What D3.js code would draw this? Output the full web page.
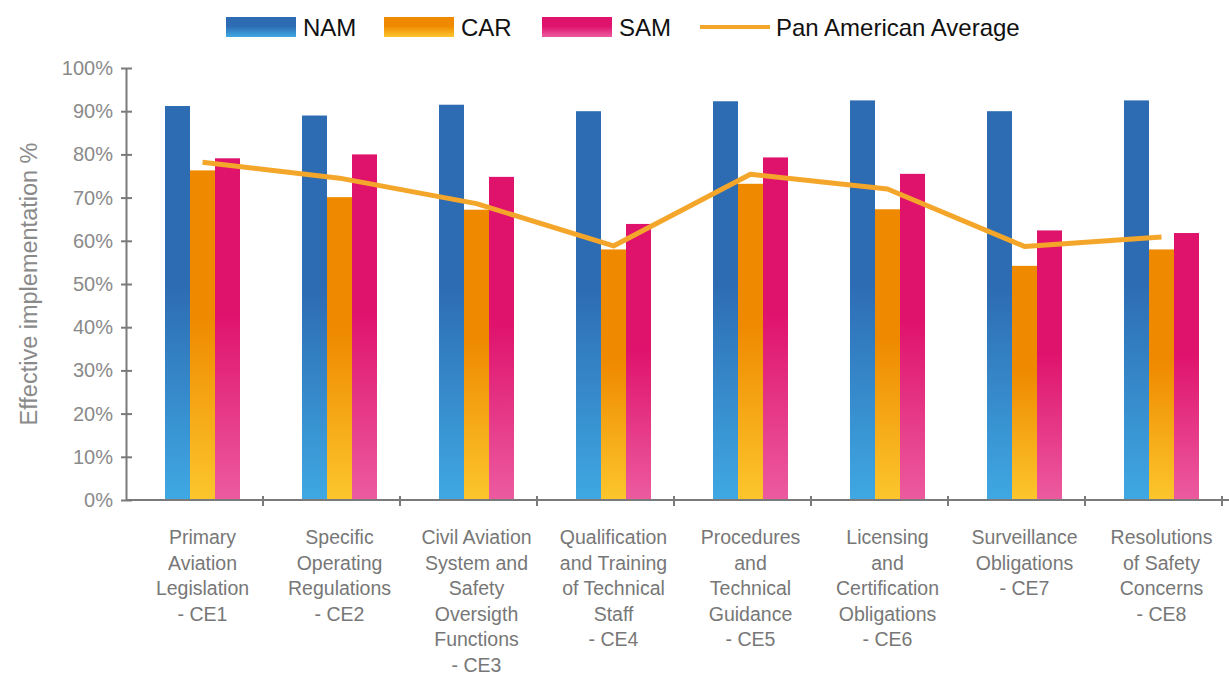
<!DOCTYPE html>
<html lang="en">
<head>
<meta charset="UTF-8">
<title>Effective implementation by critical element</title>
<script src="https://cdn.jsdelivr.net/npm/d3@7"></script>
<style>
    body { margin: 0; background: #fff; }
    svg { display: block; font-family: "Liberation Sans", Arial, sans-serif; }
</style>
</head>
<body>
<div id="chart"></div>
<script>
// data
var categories = [
    ["Primary", "Aviation", "Legislation", "- CE1"],
    ["Specific", "Operating", "Regulations", "- CE2"],
    ["Civil Aviation", "System and", "Safety", "Oversigth", "Functions", "- CE3"],
    ["Qualification", "and Training", "of Technical", "Staff", "- CE4"],
    ["Procedures", "and", "Technical", "Guidance", "- CE5"],
    ["Licensing", "and", "Certification", "Obligations", "- CE6"],
    ["Surveillance", "Obligations", "- CE7"],
    ["Resolutions", "of Safety", "Concerns", "- CE8"]
];
var series = ["NAM", "CAR", "SAM"];
var namValues = [91.2, 89.0, 91.5, 90.0, 92.3, 92.5, 90.0, 92.5];
var carValues = [76.3, 70.1, 67.2, 58.0, 73.2, 67.3, 54.2, 58.0];
var samValues = [79.1, 80.0, 74.8, 63.9, 79.3, 75.5, 62.4, 61.8];
var avgValues = [78.2, 74.5, 68.6, 58.8, 75.4, 72.0, 58.7, 60.9];
var avgLabel = "Pan American Average";
var yTicks = [0, 10, 20, 30, 40, 50, 60, 70, 80, 90, 100];

var width = 1229, height = 675;
var plotLeft = 126, plotBottom = 500, plotTop = 68;

var svg = d3.select("#chart").append("svg")
    .attr("width", width)
    .attr("height", height);

// gradients, dark at top fading lighter to the bottom
var colours = {
    NAM: ["#2d6bb3", "#3fa8e2"],
    CAR: ["#ef8a00", "#fcc62c"],
    SAM: ["#df126c", "#ec5b9f"]
};
var defs = svg.append("defs");
series.forEach(function (s) {
    var g = defs.append("linearGradient")
        .attr("id", "grad" + s)
        .attr("x1", 0).attr("y1", 0).attr("x2", 0).attr("y2", 1);
    g.append("stop").attr("offset", "0").attr("stop-color", colours[s][0]);
    g.append("stop").attr("offset", "0.45").attr("stop-color", colours[s][0]);
    g.append("stop").attr("offset", "1").attr("stop-color", colours[s][1]);
});

var idx = d3.range(categories.length);
var x = d3.scaleBand().domain(idx).range([plotLeft, plotLeft + 137 * categories.length]);
var step = x.step();
var xs = d3.scaleBand().domain(series).range([39, 39 + 75]);
var y = d3.scaleLinear().domain([0, 100]).range([plotBottom, plotTop]);

var table = idx.map(function (i) {
    return { i: i, NAM: namValues[i], CAR: carValues[i], SAM: samValues[i] };
});

// bars
var groups = svg.append("g").selectAll("g")
    .data(table)
    .enter().append("g")
    .attr("transform", function (d) { return "translate(" + x(d.i) + ",0)"; });

groups.selectAll("rect")
    .data(function (d) { return series.map(function (s) { return { s: s, v: d[s] }; }); })
    .enter().append("rect")
    .attr("x", function (d) { return xs(d.s); })
    .attr("width", xs.bandwidth())
    .attr("y", function (d) { return y(d.v); })
    .attr("height", function (d) { return plotBottom - y(d.v); })
    .attr("fill", function (d) { return "url(#grad" + d.s + ")"; });

// average line
var line = d3.line()
    .x(function (d, i) { return x(i) + xs("CAR") + xs.bandwidth() / 2; })
    .y(function (d) { return y(d); });

svg.append("path")
    .datum(avgValues)
    .attr("d", line)
    .attr("fill", "none")
    .attr("stroke", "#f4a62a")
    .attr("stroke-width", 5)
    .attr("stroke-linejoin", "round");

// y axis
var yAxis = svg.append("g")
    .attr("transform", "translate(" + plotLeft + ",0)")
    .call(d3.axisLeft(y).tickValues(yTicks).tickFormat(function (d) { return d + "%"; })
        .tickSizeInner(6).tickSizeOuter(0).tickPadding(8));
yAxis.select(".domain").attr("stroke", "#7a7a7a").attr("stroke-width", 2);
yAxis.selectAll(".tick line").attr("stroke", "#7a7a7a").attr("stroke-width", 2)
    .attr("x1", -5).attr("x2", 6);
yAxis.selectAll(".tick text")
    .attr("fill", "#8a8a8a")
    .style("font-size", "20px")
    .attr("x", -13);

svg.append("text")
    .attr("transform", "translate(37," + ((plotTop + plotBottom) / 2) + ") rotate(-90)")
    .attr("text-anchor", "middle")
    .attr("fill", "#8a8a8a")
    .style("font-size", "23.5px")
    .text("Effective implementation %");

// x axis
svg.append("line")
    .attr("x1", plotLeft).attr("x2", width)
    .attr("y1", plotBottom).attr("y2", plotBottom)
    .attr("stroke", "#7a7a7a").attr("stroke-width", 2);

svg.append("g").selectAll("line")
    .data(idx)
    .enter().append("line")
    .attr("x1", function (d) { return x(d) + step; })
    .attr("x2", function (d) { return x(d) + step; })
    .attr("y1", plotBottom - 4).attr("y2", plotBottom + 6)
    .attr("stroke", "#7a7a7a").attr("stroke-width", 2);

var labels = svg.append("g").selectAll("text")
    .data(idx)
    .enter().append("text")
    .attr("text-anchor", "middle")
    .attr("fill", "#777")
    .style("font-size", "19.5px")
    .attr("transform", function (d) {
        return "translate(" + (x(d) + xs("CAR") + xs.bandwidth() / 2) + ",544)";
    });

labels.selectAll("tspan")
    .data(function (d) { return categories[d]; })
    .enter().append("tspan")
    .attr("x", 0)
    .attr("y", function (d, i) { return i * 25.5; })
    .text(function (d) { return d; });

// legend
var legendItems = [
    { name: "NAM", x: 226 },
    { name: "CAR", x: 384 },
    { name: "SAM", x: 542 }
];
var legend = svg.append("g");
legendItems.forEach(function (it) {
    legend.append("rect")
        .attr("x", it.x).attr("y", 17)
        .attr("width", 70).attr("height", 20)
        .attr("fill", "url(#grad" + it.name + ")");
    legend.append("text")
        .attr("x", it.x + 77).attr("y", 36)
        .attr("fill", "#111")
        .style("font-size", "24px")
        .text(it.name);
});
legend.append("line")
    .attr("x1", 700).attr("x2", 770)
    .attr("y1", 27).attr("y2", 27)
    .attr("stroke", "#f4a62a").attr("stroke-width", 4);
legend.append("text")
    .attr("x", 776).attr("y", 36)
    .attr("fill", "#111")
    .style("font-size", "24px")
    .text(avgLabel);
</script>
</body>
</html>
